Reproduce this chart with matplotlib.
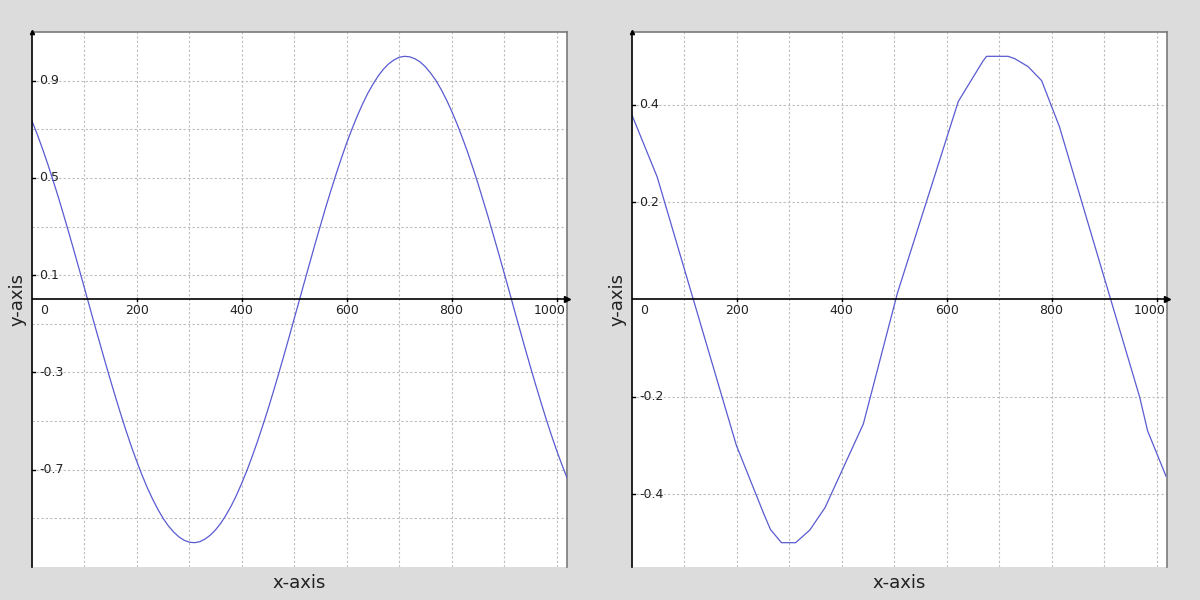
import matplotlib
matplotlib.use("Agg")
import matplotlib.pyplot as plt

# ---------------- data ----------------
left_x = list(range(0, 1021, 10))
left_y = [0.734, 0.679, 0.620, 0.557, 0.491, 0.422, 0.350, 0.276, 0.201, 0.124,
          0.047, -0.031, -0.109, -0.185, -0.261, -0.335, -0.407, -0.477, -0.544, -0.608,
          -0.667, -0.723, -0.775, -0.821, -0.863, -0.900, -0.931, -0.956, -0.976, -0.990,
          -0.998, -1.000, -0.996, -0.985, -0.969, -0.947, -0.920, -0.886, -0.848, -0.804,
          -0.755, -0.702, -0.644, -0.583, -0.518, -0.451, -0.380, -0.307, -0.232, -0.156,
          -0.078, -0.001, 0.077, 0.154, 0.231, 0.305, 0.379, 0.449, 0.517, 0.582,
          0.644, 0.701, 0.754, 0.803, 0.847, 0.885, 0.919, 0.947, 0.969, 0.985,
          0.996, 1.000, 0.998, 0.990, 0.977, 0.957, 0.931, 0.901, 0.864, 0.822,
          0.775, 0.724, 0.668, 0.609, 0.545, 0.479, 0.408, 0.337, 0.262, 0.187,
          0.110, 0.033, -0.046, -0.123, -0.200, -0.275, -0.349, -0.420, -0.490, -0.556,
          -0.619, -0.678, -0.733]

right_x = [0, 48, 199, 251, 264, 285, 312, 339, 368, 441, 506, 622, 669, 676,
           717, 730, 755, 781, 815, 968, 983, 1018]
right_y = [0.379, 0.252, -0.300, -0.440, -0.473, -0.500, -0.500, -0.474, -0.428,
           -0.256, 0.013, 0.407, 0.490, 0.500, 0.500, 0.495, 0.479, 0.450, 0.355,
           -0.201, -0.270, -0.363]

x_grid = [100, 200, 300, 400, 500, 600, 700, 800, 900, 1000]
x_tick_labels = [0, 200, 400, 600, 800, 1000]
left_y_grid = [-0.9, -0.7, -0.5, -0.3, -0.1, 0.1, 0.3, 0.5, 0.7, 0.9]
left_y_labels = [0.9, 0.5, 0.1, -0.3, -0.7]
right_y_grid = [-0.4, -0.2, 0.2, 0.4]
right_y_labels = [0.4, 0.2, -0.2, -0.4]

BG = "#dcdcdc"
LINE = "#5a5ad2"
GRID = "#bcbcbc"
TXT = "#222222"

fig = plt.figure(figsize=(12, 6), dpi=100, facecolor=BG)


def make_panel(rect, xs, ys, ylim, ygrid, ylabels):
    ax = fig.add_axes(rect)
    ax.set_facecolor("white")
    ax.set_xlim(0, 1020)
    ax.set_ylim(-ylim, ylim)

    # grid
    for gx in x_grid:
        ax.axvline(gx, color=GRID, lw=0.8, ls=(0, (2, 2)), zorder=1)
    for gy in ygrid:
        ax.axhline(gy, color=GRID, lw=0.8, ls=(0, (2, 2)), zorder=1)

    # frame: gray top/right, no bottom, black left axis
    ax.spines["bottom"].set_visible(False)
    for s in ["top", "right"]:
        ax.spines[s].set_color("#7a7a7a")
        ax.spines[s].set_linewidth(1.2)
    ax.spines["left"].set_color("black")
    ax.spines["left"].set_linewidth(1.2)
    ax.spines["left"].set_zorder(4)

    # x axis at y = 0
    ax.axhline(0, color="black", lw=1.2, zorder=4)
    ax.plot(1, 0, marker=">", color="black", ms=5, transform=ax.get_yaxis_transform(),
            clip_on=False, zorder=5)
    ax.plot(0, 1, marker="^", color="black", ms=3, transform=ax.get_xaxis_transform(),
            clip_on=False, zorder=5)

    ax.set_xticks([])
    ax.set_yticks([])

    # tick marks and labels on x axis
    for v in x_tick_labels:
        if v != 0:
            ax.plot([v, v], [-ylim * 0.006, ylim * 0.006], color="black", lw=1.0, zorder=5)
        if v == 0:
            ax.annotate("0", xy=(0, 0), xytext=(5.5, -3), textcoords="offset points",
                        ha="left", va="top", fontsize=9, color=TXT)
        elif v == 1000:
            ax.annotate(str(v), xy=(1, 0), xycoords=ax.get_yaxis_transform(),
                        xytext=(-1, -3), textcoords="offset points", ha="right",
                        va="top", fontsize=9, color=TXT)
        else:
            ax.annotate(str(v), xy=(v, 0), xytext=(0, -3), textcoords="offset points",
                        ha="center", va="top", fontsize=9, color=TXT)

    # y labels
    for v in ylabels:
        ax.plot([0, 0.006], [v, v], color="black", lw=1.0, transform=ax.get_yaxis_transform(),
                zorder=5)
        ax.text(0.013, v, f"{v:.1f}", transform=ax.get_yaxis_transform(), ha="left",
                va="center", fontsize=9, color=TXT)

    ax.plot(xs, ys, color=LINE, lw=0.9, zorder=3)

    ax.text(0.5, -0.03, "x-axis", transform=ax.transAxes, ha="center", va="center",
            fontsize=13, color=TXT)
    ax.text(-0.028, 0.5, "y-axis", transform=ax.transAxes, ha="center", va="center",
            rotation=90, fontsize=13, color=TXT)
    return ax


w = 535 / 1200
h = 535 / 600
b = 33 / 600
make_panel([32 / 1200, b, w, h], left_x, left_y, 1.1, left_y_grid, left_y_labels)
make_panel([632 / 1200, b, w, h], right_x, right_y, 0.55, right_y_grid, right_y_labels)

fig.savefig("out.png", dpi=100, facecolor=BG)
